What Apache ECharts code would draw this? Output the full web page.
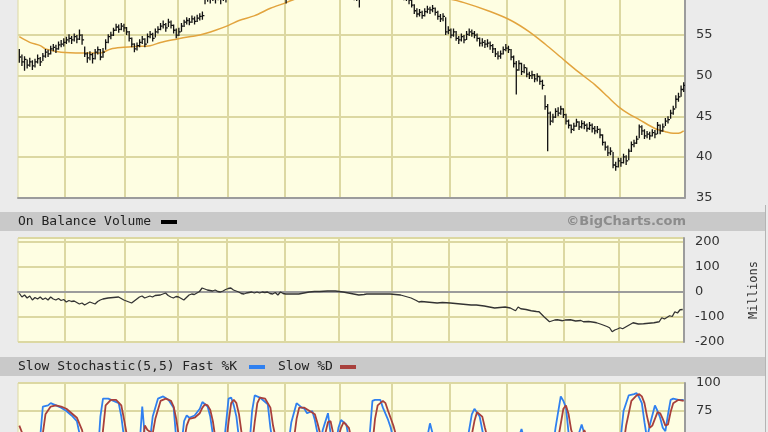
<!DOCTYPE html>
<html><head><meta charset="utf-8">
<script src="https://cdn.jsdelivr.net/npm/echarts@6/dist/echarts.min.js"></script>
<style>html,body{margin:0;padding:0;background:#ebebeb;overflow:hidden;width:768px;height:432px}#c{position:absolute;left:0;top:-60px;width:768px;height:620px}</style>
</head><body><div id="c"></div><script>
// ---- Price (daily bars) ----
const close = [
52.3,51.7,52.0,51.3,51.7,51.2,51.7,52.1,51.7,52.4,
52.9,52.7,53.3,53.5,53.3,53.8,53.9,54.1,54.4,54.6,
54.4,54.8,54.5,55.0,54.4,52.7,52.2,52.6,52.1,52.9,
53.2,52.3,52.9,54.1,54.8,55.0,55.6,56.0,55.7,56.1,
55.9,55.4,54.6,53.9,53.3,53.7,54.1,54.5,53.9,54.8,
55.1,54.6,55.4,55.7,56.1,56.3,55.9,56.6,56.2,55.6,
55.0,55.4,56.1,56.6,56.8,56.6,57.0,56.7,57.1,57.3,
57.4,59.6,60.0,59.8,60.3,60.1,60.4,59.9,60.2,60.6,
60.9,61.3,61.0,61.5,61.8,61.4,61.9,62.3,62.0,62.5,
62.2,61.8,61.4,61.0,60.6,60.9,60.4,60.1,60.5,60.0,
59.9,60.3,59.8,60.4,60.8,61.2,61.6,62.0,62.4,62.1,
62.7,63.0,62.6,63.2,63.5,63.1,62.8,62.3,61.9,61.5,
61.0,60.6,61.1,61.5,61.2,60.8,60.4,60.0,59.7,59.6,
59.4,60.1,60.6,61.0,61.4,61.8,62.1,61.7,62.0,61.6,
61.2,61.5,61.0,60.7,60.9,60.4,60.0,59.8,59.5,59.3,
58.7,58.0,57.6,57.8,57.4,57.9,58.2,58.1,58.3,57.8,
57.3,57.0,57.3,55.4,55.6,55.0,55.4,54.6,54.4,54.8,
54.4,55.1,55.4,55.2,55.0,54.6,54.0,54.1,53.9,54.0,
53.7,53.3,52.7,52.4,52.7,53.2,53.4,53.2,52.3,51.5,
50.7,51.5,50.5,51.0,50.2,50.0,50.1,49.6,49.9,49.3,
48.8,46.2,45.4,44.4,44.9,45.6,45.4,45.9,45.2,44.4,
43.9,43.4,43.8,44.3,43.7,44.1,43.9,43.5,43.9,43.5,
43.2,43.4,42.7,41.8,41.2,40.5,40.7,39.0,38.8,39.5,
39.3,40.0,39.5,40.7,41.5,41.7,42.2,43.7,43.2,42.6,
42.8,42.6,43.0,42.8,43.9,43.2,43.7,44.4,44.6,45.4,
45.9,47.1,47.4,48.3,48.8
];
const high = [
53.3,52.6,52.4,52.0,52.2,51.9,52.1,52.6,52.3,52.8,
53.3,53.2,53.7,53.9,53.8,54.2,54.4,54.6,54.8,55.1,
54.9,55.2,55.0,55.7,55.1,53.6,52.9,53.0,52.8,53.3,
53.6,53.3,53.4,54.5,55.1,55.4,55.9,56.4,56.3,56.5,
56.4,56.0,55.5,54.7,54.0,54.1,54.5,54.9,54.6,55.2,
55.5,55.3,55.8,56.1,56.5,56.8,56.5,57.0,56.8,56.3,
55.8,55.9,56.5,56.9,57.2,57.1,57.4,57.3,57.5,57.7,
57.9,60.2,60.5,60.4,60.8,60.6,60.9,60.6,60.7,61.0,
61.4,61.8,61.6,62.0,62.3,62.0,62.4,62.8,62.6,63.0,
62.8,62.4,62.0,61.6,61.2,61.3,61.0,60.7,60.9,60.6,
60.4,60.8,60.5,60.9,61.3,61.7,62.1,62.5,62.9,62.7,
63.2,63.5,63.2,63.7,64.0,63.7,63.4,63.0,62.5,62.1,
61.7,61.2,61.6,62.0,61.8,61.4,61.0,60.6,60.3,60.1,
60.0,60.5,61.0,61.5,61.9,62.3,62.6,62.3,62.5,62.2,
61.8,62.0,61.6,61.2,61.4,61.0,60.6,60.3,60.1,59.9,
59.4,58.8,58.3,58.2,58.0,58.3,58.6,58.5,58.7,58.4,
58.0,57.6,57.7,57.2,56.1,55.8,55.8,55.5,54.9,55.2,
55.0,55.5,55.8,55.7,55.5,55.2,54.7,54.6,54.4,54.5,
54.2,53.9,53.4,53.0,53.1,53.6,53.9,53.7,53.3,52.5,
51.8,51.9,51.6,51.4,51.0,50.5,50.6,50.2,50.3,50.0,
49.5,47.6,46.5,45.6,45.3,46.0,46.1,46.3,46.0,45.3,
44.6,44.0,44.2,44.7,44.4,44.5,44.4,44.1,44.3,44.1,
43.8,43.8,43.5,42.8,41.9,41.4,41.2,40.6,39.4,39.9,
39.9,40.4,40.2,41.0,41.9,42.1,42.6,44.0,43.9,43.4,
43.2,43.1,43.4,43.3,44.3,44.0,44.1,44.8,45.0,45.8,
46.3,47.6,47.9,48.8,49.2
];
const low = [
51.6,51.2,50.6,50.9,51.1,50.7,51.0,51.5,51.2,51.8,
52.2,52.3,52.6,53.0,52.8,53.2,53.5,53.6,53.9,54.1,
53.9,54.2,54.0,54.4,53.8,52.3,51.6,51.9,51.5,52.0,
52.6,51.9,52.2,53.2,54.0,54.5,54.9,55.5,55.3,55.6,
55.4,55.0,54.2,53.5,52.9,53.1,53.5,53.9,53.5,54.0,
54.6,54.2,54.7,55.2,55.6,55.8,55.4,56.0,55.8,55.2,
54.6,54.9,55.4,56.0,56.3,56.2,56.5,56.3,56.6,56.8,
56.9,58.8,59.1,58.9,59.2,58.9,59.3,58.8,59.2,59.0,
60.2,60.6,60.5,60.8,61.2,60.9,61.2,61.7,61.5,61.9,
61.7,61.2,60.9,60.5,60.1,60.3,59.9,59.6,59.8,59.5,
59.4,59.6,58.9,59.7,60.2,60.6,61.0,61.4,61.8,61.6,
62.0,62.4,62.1,62.5,62.9,62.6,62.2,61.8,61.3,60.9,
60.5,60.0,60.4,60.9,60.7,60.2,59.9,59.5,59.3,59.2,
58.4,59.4,60.0,60.4,60.8,61.2,61.5,61.2,61.4,61.1,
60.7,60.9,60.5,60.1,60.3,59.9,59.5,59.3,59.2,58.8,
58.4,57.6,57.2,57.3,57.0,57.3,57.7,57.6,57.8,57.4,
56.9,56.6,56.7,55.0,55.1,54.6,54.8,54.3,53.9,54.2,
54.0,54.4,54.9,54.8,54.6,54.2,53.6,53.6,53.4,53.5,
53.2,52.8,52.3,52.0,52.1,52.6,53.0,52.8,51.9,51.0,
47.7,50.6,50.1,50.3,49.8,49.6,49.6,49.2,49.3,48.9,
48.3,45.8,40.7,43.9,44.2,44.8,45.0,45.2,44.8,44.0,
43.5,42.9,43.2,43.7,43.3,43.5,43.4,43.1,43.3,43.0,
42.8,42.9,42.3,41.4,40.8,40.1,40.2,38.6,38.3,38.7,
38.8,39.2,39.0,39.6,40.6,41.2,41.6,42.3,42.7,42.2,
42.3,42.1,42.5,42.3,42.8,42.8,43.1,43.8,44.1,44.7,
45.2,46.0,46.8,47.4,48.0
];
// moving average, read at [day index, value]
const movingAvg = [[0,54.8],[4,54.1],[8,53.7],[10,53.3],[16,52.9],[24,52.8],[31,52.8],[35,53.3],[40,53.5],[44,53.6],[50,53.7],[54,54.1],[60,54.5],[65,54.8],[69,55.0],[75,55.6],[80,56.2],[84,56.8],[90,57.4],[96,58.3],[102,59.0],[110,60.0],[120,60.9],[130,61.3],[140,61.2],[150,60.6],[160,59.8],[170,59.0],[180,57.9],[188,56.8],[195,55.4],[201,53.9],[208,52.0],[214,50.4],[220,48.9],[225,47.4],[229,46.2],[233,45.3],[237,44.6],[243,43.5],[247,43.1],[250,42.9],[252,42.9],[254,43.2]];
// On Balance Volume (millions)
const obv = [[0,-5],[1,-20],[2,-12],[3,-24],[4,-16],[5,-32],[6,-22],[7,-28],[8,-20],[9,-30],[10,-24],[11,-32],[12,-20],[13,-28],[14,-32],[15,-26],[16,-34],[17,-30],[18,-40],[19,-34],[20,-38],[21,-36],[22,-42],[23,-48],[24,-44],[25,-52],[26,-46],[27,-40],[28,-44],[29,-48],[30,-38],[31,-32],[32,-28],[34,-24],[36,-22],[38,-20],[39,-26],[40,-32],[42,-40],[43,-44],[44,-36],[45,-28],[46,-20],[47,-16],[48,-24],[49,-20],[50,-16],[51,-20],[52,-14],[54,-12],[55,-8],[56,-4],[57,-14],[58,-20],[59,-24],[60,-18],[61,-20],[62,-26],[63,-32],[64,-22],[65,-12],[66,-8],[67,-10],[68,-4],[69,2],[70,16],[71,12],[72,8],[73,6],[74,4],[75,8],[76,2],[77,0],[78,4],[79,10],[80,14],[81,16],[82,8],[83,4],[84,0],[85,-6],[86,-8],[87,-4],[88,-2],[89,0],[90,-4],[91,0],[92,-4],[93,0],[94,-2],[95,0],[96,-6],[97,-8],[98,-2],[99,-12],[100,0],[101,-6],[102,-8],[104,-8],[106,-8],[107,-8],[109,-4],[111,0],[113,2],[115,2],[118,4],[121,4],[124,0],[126,-4],[128,-8],[130,-12],[132,-10],[133,-8],[136,-8],[139,-8],[142,-8],[144,-10],[146,-12],[148,-18],[150,-24],[152,-34],[153,-40],[154,-38],[156,-40],[158,-42],[160,-44],[162,-42],[165,-44],[167,-46],[169,-48],[171,-50],[173,-52],[175,-52],[178,-56],[180,-60],[182,-64],[184,-62],[186,-60],[188,-64],[190,-75],[191,-60],[192,-67],[194,-70],[196,-75],[198,-78],[199,-79],[201,-100],[203,-119],[205,-112],[206,-111],[208,-115],[209,-112],[211,-111],[213,-116],[215,-114],[216,-119],[218,-118],[220,-121],[221,-123],[223,-130],[225,-138],[226,-143],[227,-159],[228,-152],[229,-148],[230,-143],[231,-147],[233,-135],[235,-123],[237,-128],[239,-127],[241,-125],[243,-123],[245,-119],[246,-103],[247,-108],[249,-95],[250,-98],[251,-79],[252,-84],[253,-71],[254,-70]];
// Slow Stochastic (5,5)
const fastK = [[0,55],[1,42],[3,22],[5,15],[7,30],[8,52],[9,79],[11,80],[12,82],[14,80],[16,78],[18,75],[20,71],[22,66],[23,55],[24,38],[26,20],[28,12],[30,35],[31,70],[32,86],[34,86],[36,84],[38,82],[39,70],[40,52],[42,30],[44,25],[46,45],[47,79],[48,52],[50,50],[51,70],[53,86],[55,88],[57,85],[59,78],[60,50],[61,35],[62,45],[63,66],[64,71],[65,69],[67,71],[69,77],[70,83],[72,79],[73,70],[74,54],[76,30],[78,40],[80,86],[81,87],[82,80],[83,70],[84,50],[86,25],[88,45],[89,75],[90,89],[92,87],[93,85],[95,81],[96,60],[98,30],[100,15],[102,30],[104,65],[106,82],[108,78],[109,77],[110,73],[112,75],[113,67],[114,55],[115,45],[116,58],[118,73],[119,55],[120,40],[121,45],[122,60],[123,67],[125,63],[126,50],[128,30],[130,20],[132,25],[134,55],[135,84],[136,85],[138,85],[139,78],[141,67],[142,60],[143,50],[145,30],[147,20],[150,15],[153,20],[155,40],[157,64],[158,55],[160,35],[163,20],[166,15],[169,25],[171,45],[173,72],[174,77],[176,70],[177,58],[179,35],[182,20],[185,35],[187,56],[188,48],[190,45],[192,59],[193,50],[195,30],[198,15],[201,10],[203,25],[205,60],[207,88],[208,84],[209,78],[210,55],[212,40],[213,48],[215,63],[216,55],[218,35],[221,20],[224,10],[227,5],[229,30],[231,75],[233,89],[235,90],[236,91],[237,87],[238,82],[239,65],[240,50],[241,62],[243,80],[244,75],[245,69],[246,60],[247,57],[248,72],[249,85],[250,86],[252,85],[254,85]];
const slowD = [[0,62],[2,50],[4,32],[6,22],[8,30],[9,55],[10,72],[12,79],[14,80],[16,79],[18,77],[20,73],[22,69],[24,58],[25,45],[27,28],[29,18],[31,35],[32,58],[33,80],[35,85],[37,85],[39,80],[40,68],[41,55],[43,38],[45,30],[47,45],[48,62],[49,58],[51,55],[52,68],[54,84],[56,86],[58,84],[59,79],[60,68],[61,52],[63,48],[64,62],[65,68],[67,69],[69,73],[70,78],[71,81],[72,80],[73,76],[74,66],[75,50],[77,38],[79,45],[80,65],[81,82],[82,85],[83,82],[84,72],[85,55],[87,38],[89,45],[90,65],[91,82],[92,87],[94,86],[96,78],[97,62],[99,40],[101,25],[103,28],[105,50],[106,68],[107,78],[109,78],[111,75],[113,72],[114,64],[115,55],[117,55],[118,65],[119,66],[120,55],[122,52],[123,60],[124,65],[126,60],[127,50],[129,35],[131,25],[133,28],[135,45],[136,68],[137,80],[139,84],[140,82],[141,75],[143,62],[145,45],[147,30],[150,20],[154,22],[156,35],[158,55],[159,52],[161,40],[164,25],[167,18],[170,25],[172,42],[174,66],[175,74],[177,70],[178,60],[180,42],[183,25],[186,32],[188,48],[189,50],[191,48],[193,55],[194,50],[196,35],[199,20],[202,14],[204,25],[206,50],[208,77],[209,80],[210,72],[211,58],[213,45],[215,52],[216,58],[217,52],[219,38],[222,22],[225,12],[228,12],[230,30],[232,62],[234,84],[236,89],[237,90],[238,88],[239,82],[240,70],[241,60],[242,62],[244,74],[245,73],[246,68],[247,62],[248,63],[249,74],[250,82],[252,85],[254,84]];
// month boundaries (day index where a new month starts)
const monthStarts = [18,41,61,80,102,123,143,165,187,209,230];
const priceTicks = [35,60,5];
const obvTicks = [-200,216,100];
const stochTicks = [0,100,25];

const days = close.map((_, i) => String(i));
const ohlc = close.map((c, i) => [i, high[i], low[i], c]);

const OFF = 60; // chart canvas starts 60px above the visible window
const GRIDC = '#dcd8a2', PLOT = '#fefee2', EDGE = '#9c9c9c';
const LBL = {color:'#333', fontSize:13, fontFamily:'DejaVu Sans', margin:11, showMaxLabel:false};
function xAx(g){
  return {type:'category', gridIndex:g, data:days, boundaryGap:true,
    axisLabel:{show:false}, axisTick:{show:false},
    axisLine:{show:true, lineStyle:{color:EDGE, width:2}},
    splitLine:{show:true, interval:(idx)=>monthStarts.indexOf(idx)>=0, lineStyle:{color:GRIDC, width:2}}};
}
function yAx(g, t, extra){
  return Object.assign({type:'value', gridIndex:g, position:'right', min:t[0], max:t[1], interval:t[2],
    axisLabel:LBL, axisTick:{show:false},
    axisLine:{show:true, lineStyle:{color:EDGE, width:2}},
    splitLine:{show:true, lineStyle:{color:GRIDC, width:2}}}, extra||{});
}
const gridBase = {left:18, right:83, show:true, backgroundColor:PLOT, borderWidth:1, borderColor:GRIDC};

const chart = echarts.init(document.getElementById('c'));
chart.setOption({
  animation:false,
  backgroundColor:'#ebebeb',
  grid:[
    Object.assign({top:OFF-5.5, height:203}, gridBase),
    Object.assign({top:OFF+238, height:104}, gridBase),
    Object.assign({top:OFF+383, height:112}, gridBase)
  ],
  xAxis:[xAx(0), xAx(1), xAx(2)],
  yAxis:[
    yAx(0, priceTicks),
    yAx(1, obvTicks, {name:'Millions', nameLocation:'middle', nameGap:64, nameRotate:90,
      nameTextStyle:{color:'#333', fontSize:12, fontFamily:'DejaVu Sans Mono'}}),
    yAx(2, stochTicks, {axisLabel:Object.assign({}, LBL, {showMaxLabel:true})})
  ],
  graphic:[
    {type:'rect', shape:{x:0, y:OFF+212, width:765, height:19}, style:{fill:'#c9c9c9'}, z:-1},
    {type:'rect', shape:{x:0, y:OFF+357, width:765, height:19}, style:{fill:'#c9c9c9'}, z:-1},
    {type:'line', shape:{x1:765.5, y1:OFF+205, x2:765.5, y2:OFF+432}, style:{stroke:'#b4b4b4', lineWidth:1}},
    {type:'text', style:{text:'On Balance Volume', x:18, y:OFF+222, fill:'#222', font:'13px "DejaVu Sans Mono"', verticalAlign:'middle', textVerticalAlign:'middle'}},
    {type:'rect', shape:{x:161, y:OFF+220, width:16, height:4}, style:{fill:'#000'}},
    {type:'text', style:{text:'©BigCharts.com', x:686, y:OFF+222, fill:'#8c8c8c', font:'bold 13px "DejaVu Sans"', align:'right', textAlign:'right', verticalAlign:'middle', textVerticalAlign:'middle'}},
    {type:'text', style:{text:'Slow Stochastic(5,5) Fast %K', x:18, y:OFF+367, fill:'#222', font:'13px "DejaVu Sans Mono"', verticalAlign:'middle', textVerticalAlign:'middle'}},
    {type:'rect', shape:{x:249, y:OFF+365, width:16, height:4}, style:{fill:'#2f80f0'}},
    {type:'text', style:{text:'Slow %D', x:278, y:OFF+367, fill:'#222', font:'13px "DejaVu Sans Mono"', verticalAlign:'middle', textVerticalAlign:'middle'}},
    {type:'rect', shape:{x:340, y:OFF+365, width:16, height:4}, style:{fill:'#a8403c'}}
  ],
  series:[
    {type:'custom', xAxisIndex:0, yAxisIndex:0, data:ohlc, encode:{x:0, y:[1,2,3]}, clip:true,
      renderItem:function(params, api){
        const i = api.value(0);
        const h = api.coord([i, api.value(1)]);
        const l = api.coord([i, api.value(2)]);
        const c = api.coord([i, api.value(3)]);
        return {type:'group', children:[
          {type:'line', shape:{x1:h[0], y1:h[1], x2:l[0], y2:l[1]}, style:{stroke:'#111', lineWidth:1.3}},
          {type:'line', shape:{x1:c[0], y1:c[1], x2:c[0]+2, y2:c[1]}, style:{stroke:'#111', lineWidth:1.3}}
        ]};
      }},
    {type:'line', xAxisIndex:0, yAxisIndex:0, data:movingAvg, showSymbol:false, smooth:0.3,
      lineStyle:{color:'#e2a43e', width:1.5}, z:1},
    {type:'line', xAxisIndex:1, yAxisIndex:1, data:obv, showSymbol:false,
      lineStyle:{color:'#333', width:1.3}},
    {type:'line', xAxisIndex:2, yAxisIndex:2, data:fastK, showSymbol:false,
      lineStyle:{color:'#2f80f0', width:1.8}},
    {type:'line', xAxisIndex:2, yAxisIndex:2, data:slowD, showSymbol:false,
      lineStyle:{color:'#a8403c', width:1.8}}
  ]
});
</script></body></html>
